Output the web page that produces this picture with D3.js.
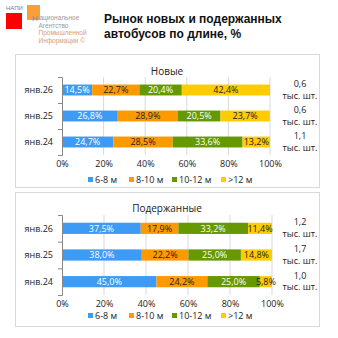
<!DOCTYPE html>
<html><head><meta charset="utf-8">
<script src="https://cdn.jsdelivr.net/npm/d3@7"></script>
<style>body{margin:0;background:#fff}svg{display:block}</style>
</head><body>
<script>
const categories = ["янв.26", "янв.25", "янв.24"];
const seriesNames = ["6-8 м", "8-10 м", "10-12 м", ">12 м"];
const newValues = [[14.5, 22.7, 20.4, 42.4], [26.8, 28.9, 20.5, 23.7], [24.7, 28.5, 33.6, 13.2]];
const usedValues = [[37.5, 17.9, 33.2, 11.4], [38.0, 22.2, 25.0, 14.8], [45.0, 24.2, 25.0, 5.8]];
const newTotals = ["0,6", "0,6", "1,1"];
const usedTotals = ["1,2", "1,7", "1,0"];
const ticks = [0, 20, 40, 60, 80, 100];
const colors = ["#3d9bf5", "#ff9900", "#669900", "#ffcc00"];
const textColors = ["#fff", "#222", "#fff", "#222"];

const W = 338, H = 338;
const svg = d3.select("body").append("svg").attr("width", W).attr("height", H);
const FONT = "'Open Sans', 'Noto Sans', sans-serif";

// Logo
svg.append("text").attr("x", 6).attr("y", 10).text("НАПИ")
  .attr("font-family", "Liberation Sans, Arial").attr("font-size", 6).attr("fill", "#6a7fa0");
svg.append("rect").attr("x", 6).attr("y", 13).attr("width", 16).attr("height", 16).attr("fill", "#ff0000");
svg.append("rect").attr("x", 27).attr("y", 5).attr("width", 13).attr("height", 15).attr("fill", "#f7a035");
svg.append("text").attr("x", 32).attr("y", 21).text("Н")
  .attr("font-family", "Liberation Sans, Arial").attr("font-size", 8).attr("fill", "#8a8a8a");
const logoLines = [["ациональное", 39.5, 19.5], ["Агентство", 38.5, 27.5], ["Промышленной", 38.5, 35], ["Информации ©", 38.5, 42.5]];
logoLines.forEach(([t, x, y], i) => svg.append("text").attr("x", x).attr("y", y).text(t)
  .attr("font-family", "Liberation Sans Narrow, Liberation Sans, Arial").attr("font-size", 6.5)
  .attr("fill", i >= 2 ? "#d8a070" : "#9a9a9a"));

// Title
const title = svg.append("text").attr("font-family", "Liberation Sans, Arial").attr("font-weight", "bold")
  .attr("font-size", 12).attr("fill", "#111");
title.append("tspan").attr("x", 104).attr("y", 23).text("Рынок новых и подержанных");
title.append("tspan").attr("x", 104).attr("y", 38).text("автобусов по длине, %");

function panel(cfg) {
  const g = svg.append("g");
  g.append("rect").attr("x", cfg.px).attr("y", cfg.py).attr("width", cfg.pw).attr("height", cfg.ph)
    .attr("fill", "#fff").attr("stroke", "#d9d9d9").attr("stroke-width", 1);
  g.append("text").attr("x", 167).attr("y", cfg.titleY).attr("text-anchor", "middle")
    .attr("font-family", FONT).attr("font-size", 10).attr("fill", "#222").text(cfg.title);

  const x = d3.scaleLinear().domain([0, 100]).range([cfg.x0, cfg.x1]);
  const y = d3.scaleBand().domain(categories).range([cfg.yTop, cfg.yBot]).paddingInner(0.58).paddingOuter(0.29);

  g.selectAll(".grid").data(ticks.slice(1)).enter().append("line")
    .attr("x1", d => x(d)).attr("x2", d => x(d)).attr("y1", cfg.yTop).attr("y2", cfg.yBot)
    .attr("stroke", "#d9d9d9").attr("stroke-width", 1);

  cfg.values.forEach((row, i) => {
    let cum = 0;
    row.forEach((v, j) => {
      const x0 = cum; cum += v;
      g.append("rect").attr("x", x(x0)).attr("y", y(categories[i])).attr("width", x(cum) - x(x0))
        .attr("height", y.bandwidth()).attr("fill", colors[j]);
      g.append("text").attr("x", (x(x0) + x(cum)) / 2).attr("y", y(categories[i]) + y.bandwidth() / 2)
        .attr("dy", "0.36em").attr("text-anchor", "middle").attr("font-family", FONT).attr("font-size", 9)
        .attr("fill", textColors[j]).text(v.toFixed(1).replace(".", ",") + "%");
    });
    const cy = y(categories[i]) + y.bandwidth() / 2;
    g.append("text").attr("x", 300).attr("y", cy - 3).attr("text-anchor", "middle")
      .attr("font-family", FONT).attr("font-size", 9).attr("fill", "#222").text(cfg.totals[i]);
    g.append("text").attr("x", 300).attr("y", cy + 8.5).attr("text-anchor", "middle")
      .attr("font-family", FONT).attr("font-size", 9).attr("fill", "#222").text("тыс. шт.");
  });

  const yAxis = d3.axisLeft(d3.scaleLinear().domain([0, 3]).range([cfg.yTop, cfg.yBot]))
    .tickValues([0, 1, 2, 3]).tickSize(4).tickFormat("");
  const ya = g.append("g").attr("transform", `translate(${cfg.x0},0)`).call(yAxis);
  ya.selectAll("path,line").attr("stroke", "#888");
  categories.forEach(c => g.append("text").attr("x", cfg.x0 - 9).attr("y", y(c) + y.bandwidth() / 2)
    .attr("dy", "0.36em").attr("text-anchor", "end").attr("font-family", FONT).attr("font-size", 9)
    .attr("fill", "#222").text(c));

  const xAxis = d3.axisBottom(x).tickValues(ticks).tickSize(0).tickFormat(d => d + "%");
  const xa = g.append("g").attr("transform", `translate(0,${cfg.yBot})`).call(xAxis);
  xa.select(".domain").remove();
  xa.selectAll("text").attr("font-family", FONT).attr("font-size", 9).attr("fill", "#222").attr("dy", "0.95em");

  const legX = [88, 129, 172, 221];
  seriesNames.forEach((s, j) => {
    g.append("rect").attr("x", legX[j]).attr("y", cfg.legY - 3).attr("width", 5).attr("height", 5).attr("fill", colors[j]);
    g.append("text").attr("x", legX[j] + 7).attr("y", cfg.legY).attr("dy", "0.33em")
      .attr("font-family", FONT).attr("font-size", 9).attr("fill", "#222").text(s);
  });
}

panel({ px: 15.5, py: 54.5, pw: 304, ph: 133, title: "Новые", titleY: 75, x0: 62, x1: 270,
  yTop: 77, yBot: 155, values: newValues, totals: newTotals, legY: 180 });
panel({ px: 15.5, py: 192.5, pw: 304, ph: 134, title: "Подержанные", titleY: 212, x0: 62, x1: 272,
  yTop: 215, yBot: 295, values: usedValues, totals: usedTotals, legY: 316 });
</script>
</body></html>
